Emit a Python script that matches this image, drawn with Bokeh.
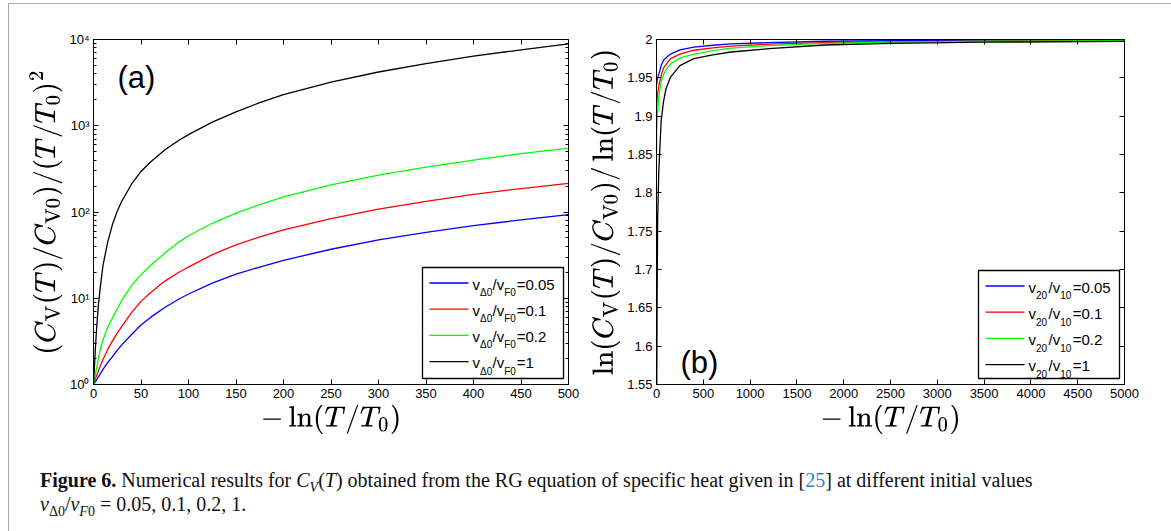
from bokeh.plotting import figure
from bokeh.models import (Range1d, FixedTicker, CustomJSTickFormatter, LinearAxis, LogAxis,
                          BoxAnnotation, Label, Div, Spacer)
from bokeh.layouts import row, column
from bokeh.embed import file_html
from bokeh.resources import INLINE

# ---------------- data ----------------
ratios = [0.05, 0.1, 0.2, 1]
colors = ["#0000ff", "#ff0000", "#00ff00", "#000000"]

# panel (a): (C_V(T)/C_V0)/(T/T0)^2 versus -ln(T/T0)
xa = [0, 1, 2, 3, 5, 7, 10, 15, 20, 25, 30, 40, 50, 60, 75, 90, 100, 125, 150, 175, 200,
      250, 300, 350, 400, 450, 500]
ya_005 = [1, 1.04, 1.08, 1.12, 1.22, 1.32, 1.5, 1.8, 2.1, 2.5, 2.9, 3.8, 4.9, 6.0, 7.8, 9.8,
          11.2, 15, 19, 23, 27.5, 37, 47.5, 58, 69.5, 81, 93]
ya_01 = [1, 1.08, 1.16, 1.25, 1.42, 1.62, 1.95, 2.55, 3.2, 3.95, 4.75, 6.8, 9.2, 11.6, 15.8,
         20.0, 23.0, 32, 41.5, 51.5, 62, 84, 108, 133, 160, 187, 215]
ya_02 = [1, 1.15, 1.33, 1.5, 1.95, 2.5, 3.3, 4.6, 5.9, 7.5, 9.6, 14.0, 18.8, 24, 33.5, 45, 53,
         74, 97, 122, 150, 206, 267, 331, 400, 475, 550]
ya_1 = [1, 1.6, 2.6, 4, 8, 13, 24, 45, 72, 102, 135, 210, 295, 380, 525, 680, 790, 1100,
        1450, 1850, 2300, 3200, 4200, 5250, 6400, 7600, 8900]

# panel (b): ln(C_V(T)/C_V0)/ln(T/T0) versus -ln(T/T0)
xb = [0, 3, 6, 12, 25, 50, 75, 100, 150, 250, 400, 600, 800, 1200, 1800, 2500, 3500, 5000]
yb_005 = [1.940, 1.943, 1.946, 1.950, 1.955, 1.966, 1.973, 1.976, 1.981, 1.9865, 1.990, 1.9925,
          1.9943, 1.996, 1.9977, 1.9984, 1.9988, 1.9992]
yb_01 = [1.905, 1.915, 1.922, 1.929, 1.940, 1.953, 1.963, 1.967, 1.975, 1.981, 1.986, 1.989,
         1.9913, 1.994, 1.996, 1.997, 1.998, 1.9988]
yb_02 = [1.855, 1.880, 1.893, 1.905, 1.925, 1.945, 1.954, 1.960, 1.968, 1.976, 1.981, 1.9855,
         1.9887, 1.992, 1.995, 1.9965, 1.9977, 1.9985]
yb_1 = [1.40, 1.55, 1.65, 1.764, 1.83, 1.894, 1.919, 1.935, 1.951, 1.966, 1.975, 1.980,
        1.9837, 1.988, 1.9928, 1.995, 1.9965, 1.9975]

xa_ticks = list(range(0, 501, 50))
ya_ticks = [1, 10, 100, 1000, 10000]
xb_ticks = list(range(0, 5001, 500))
yb_ticks = [round(1.55 + 0.05 * i, 2) for i in range(10)]


def fmt_ratio(r):
    return ("%g" % r)


FONT = "Liberation Sans"
XLABEL = r"$$-\ln(T/T_0)$$"


def style_axis(ax, size="13px"):
    ax.major_tick_in = 5
    ax.major_tick_out = 0
    ax.minor_tick_in = 3
    ax.minor_tick_out = 0
    ax.axis_line_color = "black"
    ax.major_tick_line_color = "black"
    ax.minor_tick_line_color = "black"
    ax.major_label_text_font = FONT
    ax.major_label_text_font_size = size
    ax.major_label_text_color = "black"
    ax.major_label_standoff = 4
    ax.axis_label_text_font_size = "24px"
    ax.axis_label_text_color = "black"
    ax.axis_label_text_font_style = "normal"


def mirror_axes(p, xticker, yticker, log_y=False):
    empty = CustomJSTickFormatter(code="return '';")
    top = LinearAxis(ticker=xticker, formatter=empty)
    style_axis(top)
    p.add_layout(top, "above")
    right = (LogAxis if log_y else LinearAxis)(ticker=yticker, formatter=empty)
    style_axis(right)
    p.add_layout(right, "right")


def add_legend(p, frame_left, frame_bottom, L, T, R, B, sub1, sub2):
    # positions given in page pixels, converted to frame-relative screen units
    def fx(X):
        return X - frame_left

    def fy(Y):
        return frame_bottom - Y

    p.add_layout(BoxAnnotation(left=fx(L), right=fx(R), top=fy(T), bottom=fy(B),
                               left_units="screen", right_units="screen",
                               top_units="screen", bottom_units="screen",
                               fill_color="white", fill_alpha=1.0,
                               line_color="black", line_width=1.3, line_alpha=1.0))
    main_w = {"v": 7.5, "/": 4.2}
    for i, (r, c) in enumerate(zip(ratios, colors)):
        ry = T + 15.5 + 26.2 * i
        p.add_layout(BoxAnnotation(left=fx(L + 7), right=fx(L + 46), top=fy(ry), bottom=fy(ry),
                                   left_units="screen", right_units="screen",
                                   top_units="screen", bottom_units="screen",
                                   fill_alpha=0, line_color=c, line_width=1.3, line_alpha=1.0))
        xx = L + 50
        base = ry + 1.2
        sbase = ry + 9.4
        pieces = [("v", False), (sub1, True), ("/", False), ("v", False), (sub2, True),
                  ("=" + fmt_ratio(r), False)]
        for txt, is_sub in pieces:
            p.add_layout(Label(x=fx(xx), y=fy(sbase if is_sub else base), x_units="screen",
                               y_units="screen", text=txt, text_font=FONT,
                               text_font_size="10px" if is_sub else "15px",
                               text_color="black", text_baseline="alphabetic",
                               text_align="left"))
            if is_sub:
                xx += 12.5
            else:
                xx += main_w.get(txt, 0)


# ---------------- panel (a) ----------------
pa = figure(width=577, height=441, x_range=Range1d(0, 500), y_range=Range1d(1, 10000),
            y_axis_type="log", output_backend="svg", toolbar_location=None,
            min_border_left=84, min_border_right=18, min_border_top=35, min_border_bottom=61)
pa.xgrid.visible = False
pa.ygrid.visible = False
pa.outline_line_color = "black"
pa.background_fill_color = "white"
pa.border_fill_color = "white"

xtick_a = FixedTicker(ticks=xa_ticks)
ytick_a = FixedTicker(ticks=ya_ticks,
                      minor_ticks=[m * 10 ** e for e in range(4) for m in range(2, 10)])
pa.xaxis.ticker = xtick_a
pa.yaxis.ticker = ytick_a
pa.yaxis.formatter = CustomJSTickFormatter(code="""
const s = ['\\u2070','\\u00b9','\\u00b2','\\u00b3','\\u2074','\\u2075'];
const e = Math.round(Math.log10(tick));
return '10' + s[e];
""")
for ax in pa.xaxis + pa.yaxis:
    style_axis(ax)
pa.xaxis.axis_label = XLABEL
pa.yaxis.axis_label = r"$$(C_{\rm V}(T)/C_{\rm V0})/(T/T_0)^2$$"
pa.xaxis.axis_label_standoff = 4
pa.yaxis.axis_label_standoff = 4
mirror_axes(pa, xtick_a, ytick_a, log_y=True)

for ys, c in zip([ya_005, ya_01, ya_02, ya_1], colors):
    pa.line(xa, ys, line_color=c, line_width=1.3)

add_legend(pa, 93, 384, 422, 267, 563, 378, "\u03940", "F0")
pa.add_layout(Label(x=24, y=307, x_units="screen", y_units="screen", text="(a)",
                    text_font=FONT, text_font_size="31px", text_color="black",
                    text_baseline="alphabetic"))

# ---------------- panel (b) ----------------
pb = figure(width=579, height=441, x_range=Range1d(0, 5000), y_range=Range1d(1.55, 2.0),
            output_backend="svg", toolbar_location=None,
            min_border_left=70, min_border_right=41, min_border_top=35, min_border_bottom=61)
pb.xgrid.visible = False
pb.ygrid.visible = False
pb.outline_line_color = "black"
pb.background_fill_color = "white"
pb.border_fill_color = "white"

xtick_b = FixedTicker(ticks=xb_ticks)
ytick_b = FixedTicker(ticks=yb_ticks)
pb.xaxis.ticker = xtick_b
pb.yaxis.ticker = ytick_b
pb.yaxis.formatter = CustomJSTickFormatter(code="""
let s = tick.toFixed(2);
s = s.replace(/0+$/, '').replace(/\\.$/, '');
return s;
""")
for ax in pb.xaxis + pb.yaxis:
    style_axis(ax)
pb.xaxis.axis_label = XLABEL
pb.yaxis.axis_label = r"$$\ln(C_{\rm V}(T)/C_{\rm V0})/\ln(T/T_0)$$"
pb.xaxis.axis_label_standoff = 4
pb.yaxis.axis_label_standoff = 4
mirror_axes(pb, xtick_b, ytick_b)

for ys, c in zip([yb_005, yb_01, yb_02, yb_1], colors):
    pb.line(xb, ys, line_color=c, line_width=1.3)

add_legend(pb, 656, 384, 978, 270, 1119, 378, "20", "10")
pb.add_layout(Label(x=24, y=22, x_units="screen", y_units="screen", text="(b)",
                    text_font=FONT, text_font_size="31px", text_color="black",
                    text_baseline="alphabetic"))

# ---------------- caption ----------------
ratio_txt = ", ".join(fmt_ratio(r) for r in ratios)
sub_style = 'style="font-size:70%;line-height:0;"'
cap_html = (
    '<div style="font-family:\'Liberation Serif\',serif;font-size:20px;color:#111;'
    'line-height:24px;padding:18px 0 0 26px;white-space:nowrap;">'
    '<b>Figure 6.</b> Numerical results for <i>C</i>'
    '<sub ' + sub_style + '><i>V</i></sub>(<i>T</i>) obtained from the RG '
    'equation of specific heat given in [<span style="color:#1a8ad4;">25</span>] at different '
    'initial values<br>'
    '<i>v</i><sub ' + sub_style + '>\u03940</sub>/<i>v</i>'
    '<sub ' + sub_style + '><i>F</i>0</sub> = ' + ratio_txt + '.</div>'
)
cap = Div(text=cap_html, width=1156, height=82)

framed = column(row(pa, pb), cap, styles={"border": "1px solid #a8a8a8"})
layout = column(Spacer(width=10, height=3), row(Spacer(width=8, height=10), framed))

with open("out.html", "w", encoding="utf-8") as f:
    f.write(file_html(layout, INLINE))
